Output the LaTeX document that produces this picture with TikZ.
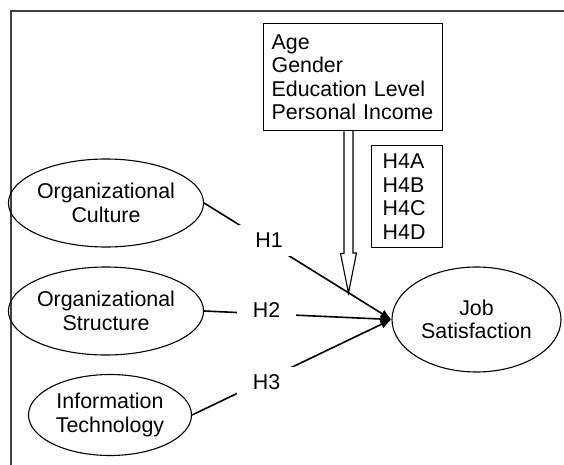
\documentclass[tikz,border=0pt]{standalone}
\usepackage{fontspec}
\setmainfont{Liberation Sans}
\usetikzlibrary{arrows.meta,shapes.geometric}

\begin{document}
\begin{tikzpicture}[x=1pt, y=-1pt,
    font=\fontsize{21.4}{23.5}\selectfont,
    factor/.style={shape=ellipse, draw=black, line width=1.1pt, align=center, inner sep=0pt},
    listbox/.style={draw=black, line width=1.3pt, align=left, anchor=north west},
    hyp/.style={fill=white, inner xsep=16pt, inner ysep=8pt},
    link/.style={draw=black, line width=1.6pt, -{Latex[length=11pt, width=9pt]}}]
    \useasboundingbox (0, 0) rectangle (564, 465);
    % frame
    \path[draw=black!75, line width=1.6pt] (564, 11) -- (11, 11) -- (11, 465);
    % moderators
    \node[listbox, text width=163pt, inner xsep=8pt, minimum height=107pt] (ctx) at (263, 23)
      {Age\\Gender\\Education Level\\Personal Income};
    \node[listbox, text width=49pt, inner xsep=11pt, minimum height=102pt] (h4) at (371, 145)
      {H4A\\H4B\\H4C\\H4D};
    % factors
    \node[factor, minimum width=174pt, minimum height=88pt] (culture) at (106, 203) {Organizational\\Culture};
    \node[factor, minimum width=174pt, minimum height=88pt] (structure) at (106, 311) {Organizational\\Structure};
    \node[factor, minimum width=163pt, minimum height=81pt] (infotech) at (110, 415) {Information\\Technology};
    \node[factor, minimum width=169pt, minimum height=105pt] (js) at (476.5, 319.5) {Job\\Satisfaction};
    % paths to job satisfaction
    \path[link] (culture.east) -- (js.west);
    \path[link] (structure.east) -- (js.west);
    \path[link] (infotech.east) -- (js.west);
    % hollow arrow from the moderator box
    \coordinate (mod) at (348.5, 293);
    \path[draw=black, line width=1.1pt, fill=white] (ctx.south -| mod) ++(-4.5, 0) -- ++(0, 122) -- ++(-3.5, 0)
      -- (mod) -- ++(8, -40) -- ++(-3.5, 0) -- ++(0, -122);
    % hypothesis labels
    \node[hyp] (h1) at (269, 240.5) {H1};
    \node[hyp] (h2) at (266.5, 310.5) {H2};
    \node[hyp] (h3) at (266.5, 382.5) {H3};
\end{tikzpicture}
\end{document}
